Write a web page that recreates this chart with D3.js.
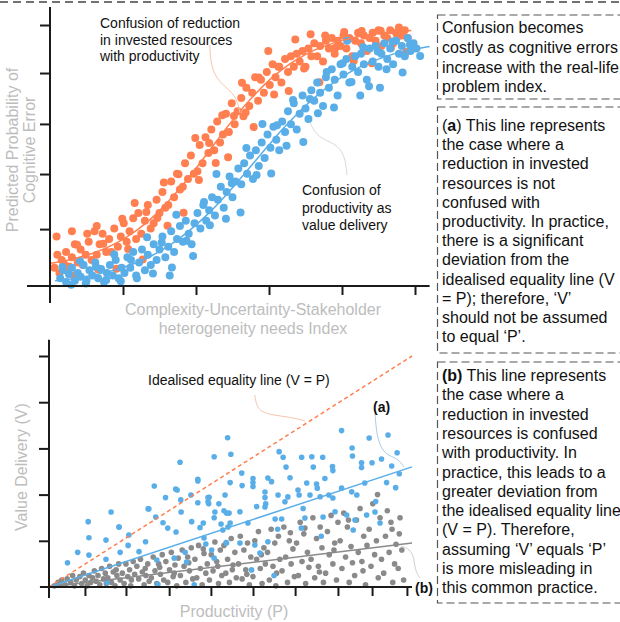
<!DOCTYPE html>
<html><head><meta charset="utf-8">
<script src="https://cdn.jsdelivr.net/npm/d3@7"></script>
<style>body{margin:0;background:#fff}svg{display:block;font-family:"Liberation Sans",Arial,Helvetica,sans-serif}</style>
</head><body><svg id="c" width="620" height="622"></svg>
<script>
// ---------- DATA (top chart: index 0-5, probability 0-1) ----------
const topXTicks = [1, 2, 3, 4, 5];
const topYTicks = [0.218, 0.429, 0.621, 0.816, 1.0];
const orangePoints = [
[0.06,0.07],[0.10,0.12],[0.13,0.05],[0.16,0.10],[0.19,0.085],
[0.22,0.13],[0.26,0.075],[0.30,0.11],[0.34,0.16],[0.38,0.09],[0.30,0.21],
[0.42,0.14],[0.45,0.08],[0.49,0.12],[0.53,0.17],[0.57,0.10],
[0.61,0.21],[0.64,0.12],[0.68,0.16],[0.72,0.20],[0.77,0.13],[0.64,0.23],
[0.81,0.18],[0.84,0.13],[0.88,0.22],[0.93,0.15],[0.97,0.19],
[1.01,0.24],[1.05,0.17],[1.09,0.21],[1.14,0.26],[1.18,0.18],
[1.21,0.28],[1.25,0.20],[1.30,0.25],[1.34,0.31],[1.38,0.22],
[1.42,0.24],[1.46,0.33],[1.50,0.28],[1.54,0.36],[1.58,0.30],
[1.62,0.31],[1.66,0.40],[1.70,0.34],[1.74,0.43],[1.78,0.37],
[1.82,0.38],[1.85,0.47],[1.89,0.41],[1.93,0.50],[1.97,0.43],
[2.02,0.44],[2.05,0.54],[2.09,0.47],[2.13,0.57],[2.17,0.51],
[2.21,0.60],[2.25,0.52],[2.29,0.63],[2.33,0.55],[2.37,0.58],
[2.41,0.66],[2.45,0.59],[2.49,0.70],[2.53,0.62],[2.57,0.67],
[2.62,0.72],[2.65,0.65],[2.69,0.76],[2.73,0.69],[2.77,0.74],
[2.81,0.80],[2.85,0.71],[2.89,0.79],[2.93,0.74],[2.97,0.82],
[3.01,0.77],[3.05,0.85],[3.09,0.80],[3.13,0.84],[3.17,0.78],
[3.22,0.87],[3.26,0.82],[3.30,0.88],[3.34,0.84],[3.38,0.89],
[3.42,0.86],[3.46,0.90],[3.50,0.84],[3.54,0.91],[3.58,0.88],
[3.62,0.93],[3.66,0.88],[3.70,0.92],[3.74,0.86],[3.78,0.94],
[3.82,0.91],[3.86,0.95],[3.90,0.89],[3.94,0.94],[3.98,0.92],
[4.02,0.96],[4.06,0.91],[4.10,0.95],[4.14,0.88],[4.18,0.94],
[4.22,0.97],[4.26,0.93],[4.30,0.96],[4.34,0.90],[4.38,0.95],
[4.42,0.97],[4.46,0.94],[4.50,0.98],[4.54,0.92],[4.58,0.96],
[4.62,0.95],[4.66,0.98],[4.70,0.93],[4.74,0.97],[4.78,0.99],
[4.82,0.96],[4.86,0.98],[4.90,0.95],
[0.09,0.19],[0.21,0.067],[0.33,0.04],[0.37,0.158],[0.51,0.20],[0.66,0.064],[0.73,0.162],[0.91,0.066],
[0.99,0.258],[1.07,0.142],[1.16,0.318],[1.27,0.102],[1.32,0.284],[1.47,0.261],[1.56,0.397],[1.61,0.231],
[1.76,0.428],[1.83,0.281],[1.99,0.567],[2.04,0.406],[2.18,0.548],[2.27,0.471],[2.36,0.654],[2.44,0.493],
[2.52,0.651],[2.63,0.779],[2.68,0.665],[2.79,0.609],[2.86,0.799],[2.99,0.90],[3.07,0.734],[3.14,0.84],
[3.27,0.747],[3.36,0.944],[3.48,0.833],[3.57,0.965],[3.69,0.781],[3.77,0.96],[3.91,0.913],[4.03,0.973],
[4.16,0.862],[4.27,0.977],[4.41,0.853],[4.53,0.978],[4.67,0.912],[4.76,0.955],[4.88,0.897]
];
const bluePoints = [
[0.14,0.03],[0.18,0.06],[0.22,0.015],[0.26,0.045],[0.30,0.07],[0.34,0.02],[0.38,0.05],
[0.42,0.035],[0.46,0.08],[0.50,0.02],[0.54,0.06],[0.58,0.04],
[0.62,0.09],[0.66,0.03],[0.70,0.065],[0.74,0.015],[0.78,0.05],
[0.82,0.08],[0.86,0.04],[0.90,0.10],[0.94,0.03],[0.98,0.07],
[1.02,0.05],[1.06,0.11],[1.10,0.07],[1.14,0.13],[1.18,0.04],
[1.22,0.09],[1.26,0.14],[1.30,0.06],[1.34,0.12],[1.38,0.08],
[1.42,0.16],[1.46,0.10],[1.50,0.14],[1.54,0.19],[1.58,0.11],[1.64,0.04],
[1.62,0.15],[1.66,0.21],[1.70,0.13],[1.74,0.18],[1.78,0.23],
[1.82,0.17],[1.86,0.25],[1.90,0.20],[1.94,0.16],[1.98,0.24],
[2.02,0.28],[2.06,0.22],[2.10,0.31],[2.14,0.25],[2.18,0.29],
[2.22,0.34],[2.26,0.27],[2.30,0.33],[2.34,0.38],[2.38,0.30],
[2.42,0.36],[2.46,0.42],[2.50,0.34],[2.54,0.40],[2.58,0.45],
[2.62,0.39],[2.66,0.47],[2.70,0.43],[2.74,0.50],[2.78,0.41],
[2.82,0.52],[2.86,0.46],[2.90,0.55],[2.94,0.49],[2.98,0.58],
[3.02,0.53],[3.06,0.61],[3.10,0.56],[3.14,0.52],[3.18,0.63],
[3.22,0.59],[3.26,0.67],[3.30,0.62],[3.34,0.70],[3.38,0.60],
[3.42,0.66],[3.46,0.73],[3.50,0.68],[3.54,0.64],[3.58,0.75],
[3.62,0.71],[3.66,0.78],[3.70,0.74],[3.74,0.69],[3.78,0.80],
[3.82,0.76],[3.86,0.83],[3.90,0.79],[3.94,0.73],[3.98,0.85],
[4.02,0.81],[4.06,0.87],[4.10,0.78],[4.14,0.84],[4.18,0.88],[4.07,0.94],
[4.22,0.82],[4.26,0.89],[4.30,0.85],[4.34,0.79],[4.38,0.91],[4.25,0.73],
[4.42,0.86],[4.46,0.92],[4.50,0.84],[4.54,0.89],[4.58,0.93],[4.52,0.76],
[4.62,0.87],[4.66,0.91],[4.70,0.85],[4.74,0.94],[4.78,0.89],
[4.82,0.92],[4.86,0.88],[4.90,0.95],[4.94,0.90],[4.98,0.93],[5.02,0.91],
[0.17,0.073],[0.29,0.005],[0.41,0.097],[0.49,0.01],[0.63,0.074],[0.77,0.023],[0.88,0.121],[0.97,0.018],
[1.11,0.10],[1.19,0.03],[1.33,0.187],[1.41,0.048],[1.53,0.167],[1.67,0.071],[1.73,0.273],[1.87,0.173],
[1.96,0.115],[2.11,0.322],[2.19,0.233],[2.28,0.429],[2.41,0.258],[2.49,0.394],[2.61,0.282],[2.69,0.529],
[2.83,0.425],[2.91,0.621],[3.03,0.431],[3.11,0.616],[3.24,0.537],[3.33,0.713],[3.47,0.552],[3.56,0.716],
[3.67,0.662],[3.79,0.82],[3.89,0.684],[4.01,0.853],[4.13,0.782],[4.29,0.915],[4.37,0.765],[4.49,0.898],
[4.61,0.83],[4.69,0.937],[4.83,0.818],[4.93,0.924],[5.07,0.881]
];
const orangeFit = [[0,0.087],[0.2,0.096],[0.4,0.110],[0.6,0.127],[0.8,0.150],[1.0,0.179],[1.2,0.216],[1.4,0.262],[1.6,0.318],[1.8,0.381],[2.0,0.451],[2.2,0.525],[2.4,0.599],[2.6,0.669],[2.8,0.732],[3.0,0.788],[3.2,0.834],[3.4,0.871],[3.6,0.901],[3.8,0.923],[4.0,0.941],[4.2,0.954],[4.4,0.963],[4.6,0.970],[4.8,0.976],[4.95,0.979]];
const blueFit = [[0.07,0.020],[0.2,0.024],[0.4,0.032],[0.6,0.042],[0.8,0.055],[1.0,0.071],[1.2,0.091],[1.4,0.117],[1.6,0.149],[1.8,0.188],[2.0,0.234],[2.2,0.286],[2.4,0.345],[2.6,0.409],[2.8,0.475],[3.0,0.541],[3.2,0.605],[3.4,0.663],[3.6,0.716],[3.8,0.762],[4.0,0.801],[4.2,0.833],[4.4,0.859],[4.6,0.879],[4.8,0.896],[5.0,0.908],[5.2,0.918]];

// ---------- DATA (bottom chart: productivity 0-1, value delivery 0-1) ----------
const botXTicks = [0.099, 0.212, 0.331, 0.446, 0.562, 0.678, 0.796, 0.890, 0.986];
const botYTicks = [0.2, 0.4, 0.6, 0.8, 1.0];
const equalityLine = [[0, 0], [1, 1]];
const lineA = [[0, 0], [1, 0.52]];
const lineB = [[0, 0], [1, 0.19]];
const valueBlue = [
[0.051,0.105],[0.079,0.15],[0.108,0.283],[0.11,0.213],[0.11,0.138],[0.171,0.325],[0.157,0.203],[0.193,0.26],
[0.196,0.15],[0.22,0.225],[0.218,0.18],[0.157,0.12],[0.275,0.338],[0.29,0.437],[0.294,0.303],[0.266,0.196],
[0.248,0.153],[0.321,0.387],[0.349,0.424],[0.363,0.377],[0.391,0.398],[0.314,0.278],[0.327,0.255],[0.35,0.238],
[0.364,0.325],[0.393,0.283],[0.379,0.108],[0.345,0.125],[0.297,0.117],[0.41,0.365],[0.438,0.387],[0.44,0.36],
[0.416,0.257],[0.425,0.277],[0.427,0.212],[0.457,0.325],[0.455,0.30],[0.468,0.36],[0.474,0.273],[0.41,0.459],
[0.448,0.16],[0.432,0.186],[0.375,0.15],[0.455,0.125],[0.482,0.33],[0.479,0.247],[0.493,0.26],[0.488,0.192],
[0.496,0.32],[0.499,0.452],[0.532,0.439],[0.562,0.452],[0.562,0.435],[0.595,0.411],[0.595,0.387],[0.597,0.36],
[0.595,0.346],[0.613,0.456],[0.631,0.398],[0.65,0.369],[0.658,0.39],[0.686,0.42],[0.689,0.398],[0.71,0.45],
[0.719,0.398],[0.737,0.446],[0.739,0.428],[0.747,0.391],[0.771,0.398],[0.782,0.385],[0.806,0.428],[0.834,0.412],
[0.848,0.398],[0.93,0.452],[0.485,0.398],[0.489,0.32],[0.526,0.326],[0.548,0.277],[0.572,0.348],[0.623,0.294],
[0.641,0.294],[0.705,0.299],[0.695,0.255],[0.755,0.303],[0.788,0.326],[0.82,0.312],[0.838,0.247],[0.843,0.29],
[0.875,0.312],[0.898,0.325],[0.912,0.277],[0.567,0.182],[0.603,0.196],[0.581,0.147],[0.526,0.19],[0.558,0.074],
[0.489,0.19],[0.499,0.277],[0.492,0.646],[0.501,0.575],[0.455,0.564],[0.531,0.493],[0.562,0.47],[0.634,0.586],
[0.645,0.562],[0.653,0.519],[0.664,0.473],[0.696,0.562],[0.724,0.564],[0.728,0.519],[0.754,0.562],[0.781,0.521],
[0.782,0.504],[0.806,0.677],[0.835,0.602],[0.836,0.567],[0.861,0.538],[0.861,0.517],[0.882,0.645],[0.89,0.538],
[0.916,0.554],[0.934,0.658],[0.944,0.524],[0.959,0.581],[0.603,0.472],[0.361,0.54],[0.41,0.466],[0.441,0.388],
[0.438,0.369],[0.353,0.42],[0.273,0.338],[0.193,0.26],[0.62,0.05],[0.30,0.012],[0.40,0.01],[0.16,0.02],
[0.90,0.37],[0.955,0.43],[0.70,0.34],[0.76,0.47],[0.87,0.45],[0.965,0.49],[0.63,0.25],[0.75,0.22]
];
const valueGray = [
[0.015,0.005],[0.025,0.02],[0.03,0.012],[0.035,0.03],
[0.045,0.01],[0.05,0.035],[0.06,0.02],[0.065,0.05],[0.07,0.005],[0.075,0.03],
[0.085,0.045],[0.09,0.015],[0.095,0.06],[0.10,0.03],[0.105,0.005],[0.11,0.05],[0.115,0.02],[0.12,0.04],
[0.125,0.07],[0.13,0.025],[0.135,0.05],[0.14,0.01],[0.145,0.08],[0.15,0.035],[0.155,0.06],[0.158,0.015],
[0.162,0.04],[0.167,0.09],[0.172,0.02],[0.177,0.065],[0.182,0.005],[0.187,0.05],[0.192,0.1],[0.196,0.03],[0.185,0.075],
[0.202,0.06],[0.207,0.015],[0.212,0.1],[0.217,0.045],[0.222,0.075],[0.227,0.03],[0.232,0.11],[0.236,0.055],[0.225,0.005],
[0.242,0.09],[0.247,0.035],[0.252,0.12],[0.257,0.065],[0.262,0.01],[0.267,0.05],[0.272,0.1],[0.276,0.025],[0.265,0.08],
[0.282,0.04],[0.287,0.13],[0.292,0.07],[0.297,0.015],[0.302,0.1],[0.307,0.055],[0.312,0.14],[0.316,0.03],[0.305,0.085],
[0.322,0.11],[0.327,0.02],[0.332,0.075],[0.337,0.15],[0.342,0.045],[0.347,0.095],[0.352,0.005],[0.356,0.125],[0.345,0.06],
[0.362,0.05],[0.367,0.16],[0.372,0.09],[0.377,0.02],[0.382,0.13],[0.387,0.07],[0.392,0.17],[0.396,0.035],[0.385,0.105],
[0.402,0.12],[0.407,0.04],[0.412,0.18],[0.417,0.08],[0.422,0.01],[0.427,0.145],[0.432,0.06],[0.436,0.1],[0.425,0.165],
[0.442,0.03],[0.447,0.14],[0.452,0.07],[0.457,0.195],[0.462,0.11],[0.467,0.015],[0.472,0.16],[0.476,0.05],[0.465,0.09],
[0.482,0.18],[0.487,0.06],[0.492,0.12],[0.497,0.02],[0.502,0.21],[0.507,0.095],[0.512,0.15],[0.516,0.04],[0.505,0.075],
[0.522,0.1],[0.527,0.22],[0.532,0.035],[0.537,0.16],[0.542,0.075],[0.547,0.19],[0.552,0.01],[0.556,0.13],[0.545,0.055],
[0.562,0.045],[0.567,0.2],[0.572,0.12],[0.577,0.24],[0.582,0.08],[0.587,0.015],[0.592,0.17],[0.596,0.1],[0.585,0.14],
[0.602,0.15],[0.607,0.03],[0.612,0.25],[0.617,0.09],[0.622,0.19],[0.627,0.06],[0.632,0.22],[0.636,0.12],[0.625,0.005],
[0.642,0.07],[0.647,0.26],[0.652,0.13],[0.657,0.02],[0.662,0.2],[0.667,0.1],[0.672,0.165],[0.676,0.045],[0.665,0.235],
[0.682,0.19],[0.687,0.05],[0.692,0.28],[0.697,0.11],[0.702,0.23],[0.707,0.015],[0.712,0.15],[0.716,0.085],[0.705,0.255],
[0.722,0.12],[0.727,0.3],[0.732,0.04],[0.737,0.21],[0.742,0.09],[0.747,0.26],[0.752,0.17],[0.756,0.02],[0.745,0.065],
[0.762,0.06],[0.767,0.24],[0.772,0.14],[0.777,0.31],[0.782,0.1],[0.787,0.19],[0.792,0.03],[0.796,0.28],[0.785,0.16],
[0.802,0.2],[0.807,0.08],[0.812,0.32],[0.817,0.13],[0.822,0.26],[0.827,0.02],[0.832,0.175],[0.836,0.105],[0.825,0.29],
[0.842,0.05],[0.847,0.29],[0.852,0.15],[0.857,0.34],[0.862,0.11],[0.867,0.22],[0.872,0.01],[0.876,0.18],[0.865,0.07],
[0.882,0.25],[0.887,0.09],[0.892,0.36],[0.897,0.14],[0.902,0.2],[0.907,0.04],[0.912,0.3],[0.916,0.12],[0.905,0.4],
[0.922,0.06],[0.927,0.22],[0.932,0.33],[0.937,0.15],[0.942,0.28],[0.947,0.02],[0.952,0.1],[0.956,0.185],[0.945,0.25],
[0.962,0.08],[0.967,0.3],[0.972,0.16],[0.977,0.03],[0.965,0.23]
];

// annotation leader paths (data units of each panel)
const leaderTopOrange = [[2.19,0.923],[2.205,0.828],[2.356,0.770],[2.548,0.732],[2.603,0.663]];
const leaderTopBlue = [[3.562,0.625],[3.671,0.567],[3.904,0.548],[4.041,0.502],[4.068,0.425]];
const leaderEq = [[0.567,0.831],[0.573,0.766],[0.609,0.745],[0.664,0.736],[0.705,0.719]];
const leaderA = [[0.898,0.749],[0.904,0.636],[0.926,0.571],[0.961,0.558],[0.978,0.519]];
const leaderB = [[0.970,0.177],[0.994,0.165],[1.006,0.126],[1.008,0.074],[1.022,0.039]];

const box1 = ["Confusion becomes","costly as cognitive errors","increase with the real-life","problem index."];
const box2 = [["(","a",") This line represents"],"the case where a","reduction in invested","resources is not","confused with","productivity. In practice,","there is a significant","deviation from the","idealised equality line (V","= P); therefore, \u2018V\u2019","should not be assumed","to equal \u2018P\u2019."];
const box3 = [["","(b)"," This line represents"],"the case where a","reduction in invested","resources is confused","with productivity. In","practice, this leads to a","greater deviation from","the idealised equality line","(V = P). Therefore,","assuming \u2018V\u2019 equals \u2018P\u2019","is more misleading in","this common practice."];

// ---------- DRAW ----------
const ORANGE = "#ff7f50", BLUE = "#5aaee8", GRAY = "#8a8a8a", AX = "#1a1a1a", TITLE = "#bdbdbd";
const svg = d3.select("#c");

const tx = d3.scaleLinear().domain([0,5]).range([50,415]);
const ty = d3.scaleLinear().domain([0,1]).range([286,25]);
const bx = d3.scaleLinear().domain([0,1]).range([49,412]);
const by = d3.scaleLinear().domain([0,1]).range([587,356]);

svg.append("line").attr("x1",0).attr("x2",620).attr("y1",2).attr("y2",2)
  .attr("stroke","#444").attr("stroke-width",1.3).attr("stroke-dasharray","8,5");

// ---- top panel
const gT = svg.append("g");
gT.selectAll("circle.o").data(orangePoints).join("circle").attr("class","o")
  .attr("cx",d=>tx(d[0])).attr("cy",d=>ty(d[1])).attr("r",4).attr("fill",ORANGE);
gT.selectAll("circle.b").data(bluePoints).join("circle").attr("class","b")
  .attr("cx",d=>tx(d[0])).attr("cy",d=>ty(d[1])).attr("r",4).attr("fill",BLUE);
const lineT = d3.line().x(d=>tx(d[0])).y(d=>ty(d[1])).curve(d3.curveMonotoneX);
gT.append("path").attr("d",lineT(orangeFit)).attr("fill","none").attr("stroke",ORANGE).attr("stroke-width",1.5);
gT.append("path").attr("d",lineT(blueFit)).attr("fill","none").attr("stroke",BLUE).attr("stroke-width",1.5);

const leadT = d3.line().x(d=>tx(d[0])).y(d=>ty(d[1])).curve(d3.curveBasis);
gT.append("path").attr("d",leadT(leaderTopOrange)).attr("fill","none").attr("stroke","#f6c6ab").attr("stroke-width",1);
gT.append("path").attr("d",leadT(leaderTopBlue)).attr("fill","none").attr("stroke","#d8d8d8").attr("stroke-width",1);

gT.append("line").attr("x1",tx(-0.315)).attr("x2",tx(5.2)).attr("y1",ty(0)).attr("y2",ty(0)).attr("stroke",AX).attr("stroke-width",2);
gT.append("line").attr("x1",tx(0)).attr("x2",tx(0)).attr("y1",ty(1.069)).attr("y2",ty(-0.065)).attr("stroke",AX).attr("stroke-width",2);
const axTB = gT.append("g").attr("transform",`translate(0,${ty(0)})`)
  .call(d3.axisBottom(tx).tickValues(topXTicks).tickSize(9).tickFormat(""));
const axTL = gT.append("g").attr("transform",`translate(${tx(0)},0)`)
  .call(d3.axisLeft(ty).tickValues(topYTicks).tickSize(10).tickFormat(""));
[axTB,axTL].forEach(a=>{a.select(".domain").remove();a.selectAll("line").attr("stroke",AX).attr("stroke-width",2);});

gT.append("text").attr("transform","translate(18,150) rotate(-90)").attr("text-anchor","middle")
  .attr("font-size",16).attr("fill",TITLE).text("Predicted Probability of");
gT.append("text").attr("transform","translate(35,150) rotate(-90)").attr("text-anchor","middle")
  .attr("font-size",16).attr("fill",TITLE).text("Cognitive Error");
gT.append("text").attr("x",253).attr("y",315).attr("text-anchor","middle").attr("font-size",16).attr("fill",TITLE).text("Complexity-Uncertainty-Stakeholder");
gT.append("text").attr("x",253).attr("y",334).attr("text-anchor","middle").attr("font-size",16).attr("fill",TITLE).text("heterogeneity needs Index");

const ann1 = ["Confusion of reduction","in invested resources","with productivity"];
ann1.forEach((t,i)=>gT.append("text").attr("x",100).attr("y",28+i*16.5).attr("font-size",14).attr("fill","#111").text(t));
const ann2 = ["Confusion of","productivity as","value delivery"];
ann2.forEach((t,i)=>gT.append("text").attr("x",302).attr("y",195+i*17.5).attr("font-size",14).attr("fill","#111").text(t));

// ---- bottom panel
const gB = svg.append("g");
gB.selectAll("circle.g").data(valueGray).join("circle").attr("class","g")
  .attr("cx",d=>bx(d[0])).attr("cy",d=>by(d[1])).attr("r",2.8).attr("fill",GRAY);
gB.selectAll("circle.b").data(valueBlue).join("circle").attr("class","b")
  .attr("cx",d=>bx(d[0])).attr("cy",d=>by(d[1])).attr("r",2.8).attr("fill",BLUE);
const lineB2 = d3.line().x(d=>bx(d[0])).y(d=>by(d[1]));
gB.append("path").attr("d",lineB2(lineB)).attr("fill","none").attr("stroke","#8a8a8a").attr("stroke-width",1.5);
gB.append("path").attr("d",lineB2(lineA)).attr("fill","none").attr("stroke",BLUE).attr("stroke-width",1.5);
gB.append("path").attr("d",lineB2(equalityLine)).attr("fill","none").attr("stroke",ORANGE).attr("stroke-width",1.5).attr("stroke-dasharray","4,3");

const leadB = d3.line().x(d=>bx(d[0])).y(d=>by(d[1])).curve(d3.curveBasis);
gB.append("path").attr("d",leadB(leaderEq)).attr("fill","none").attr("stroke","#f6c6ab").attr("stroke-width",1);
gB.append("path").attr("d",leadB(leaderA)).attr("fill","none").attr("stroke","#a9cbe8").attr("stroke-width",1);
gB.append("path").attr("d",leadB(leaderB)).attr("fill","none").attr("stroke","#cfcfcf").attr("stroke-width",1);

gB.append("line").attr("x1",bx(-0.025)).attr("x2",bx(1.0)).attr("y1",by(0)).attr("y2",by(0)).attr("stroke",AX).attr("stroke-width",2);
gB.append("line").attr("x1",bx(0)).attr("x2",bx(0)).attr("y1",by(1.07)).attr("y2",by(-0.048)).attr("stroke",AX).attr("stroke-width",2);
const axBB = gB.append("g").attr("transform",`translate(0,${by(0)})`)
  .call(d3.axisBottom(bx).tickValues(botXTicks).tickSize(9).tickFormat(""));
const axBL = gB.append("g").attr("transform",`translate(${bx(0)},0)`)
  .call(d3.axisLeft(by).tickValues(botYTicks).tickSize(10).tickFormat(""));
[axBB,axBL].forEach(a=>{a.select(".domain").remove();a.selectAll("line").attr("stroke",AX).attr("stroke-width",2);});

gB.append("text").attr("transform","translate(27,467) rotate(-90)").attr("text-anchor","middle")
  .attr("font-size",16).attr("fill",TITLE).text("Value Delivery (V)");
gB.append("text").attr("x",234).attr("y",617).attr("text-anchor","middle").attr("font-size",16).attr("fill",TITLE).text("Productivity (P)");
gB.append("text").attr("x",148).attr("y",385).attr("font-size",14).attr("fill","#111").text("Idealised equality line (V = P)");
gB.append("text").attr("x",373).attr("y",412).attr("font-size",14).attr("font-weight","bold").attr("fill","#111").text("(a)");
gB.append("text").attr("x",415).attr("y",593).attr("font-size",14).attr("font-weight","bold").attr("fill","#111").text("(b)");

// ---- text boxes
function box(y,h,lines,y0,step){
  svg.append("rect").attr("x",437.5).attr("y",y).attr("width",200).attr("height",h)
    .attr("fill","none").attr("stroke","#555").attr("stroke-width",1.2).attr("stroke-dasharray","8,4");
  lines.forEach((l,i)=>{
    const t = svg.append("text").attr("x",442).attr("y",y0+i*step).attr("font-size",16).attr("fill","#111");
    if (Array.isArray(l)) {
      t.append("tspan").text(l[0]);
      t.append("tspan").attr("font-weight","bold").text(l[1]);
      t.append("tspan").text(l[2]);
    } else t.text(l);
  });
}
box(15,84,box1,33,19.8);
box(107,246,box2,131,19.2);
box(362,241,box3,381,19.3);
</script></body></html>
